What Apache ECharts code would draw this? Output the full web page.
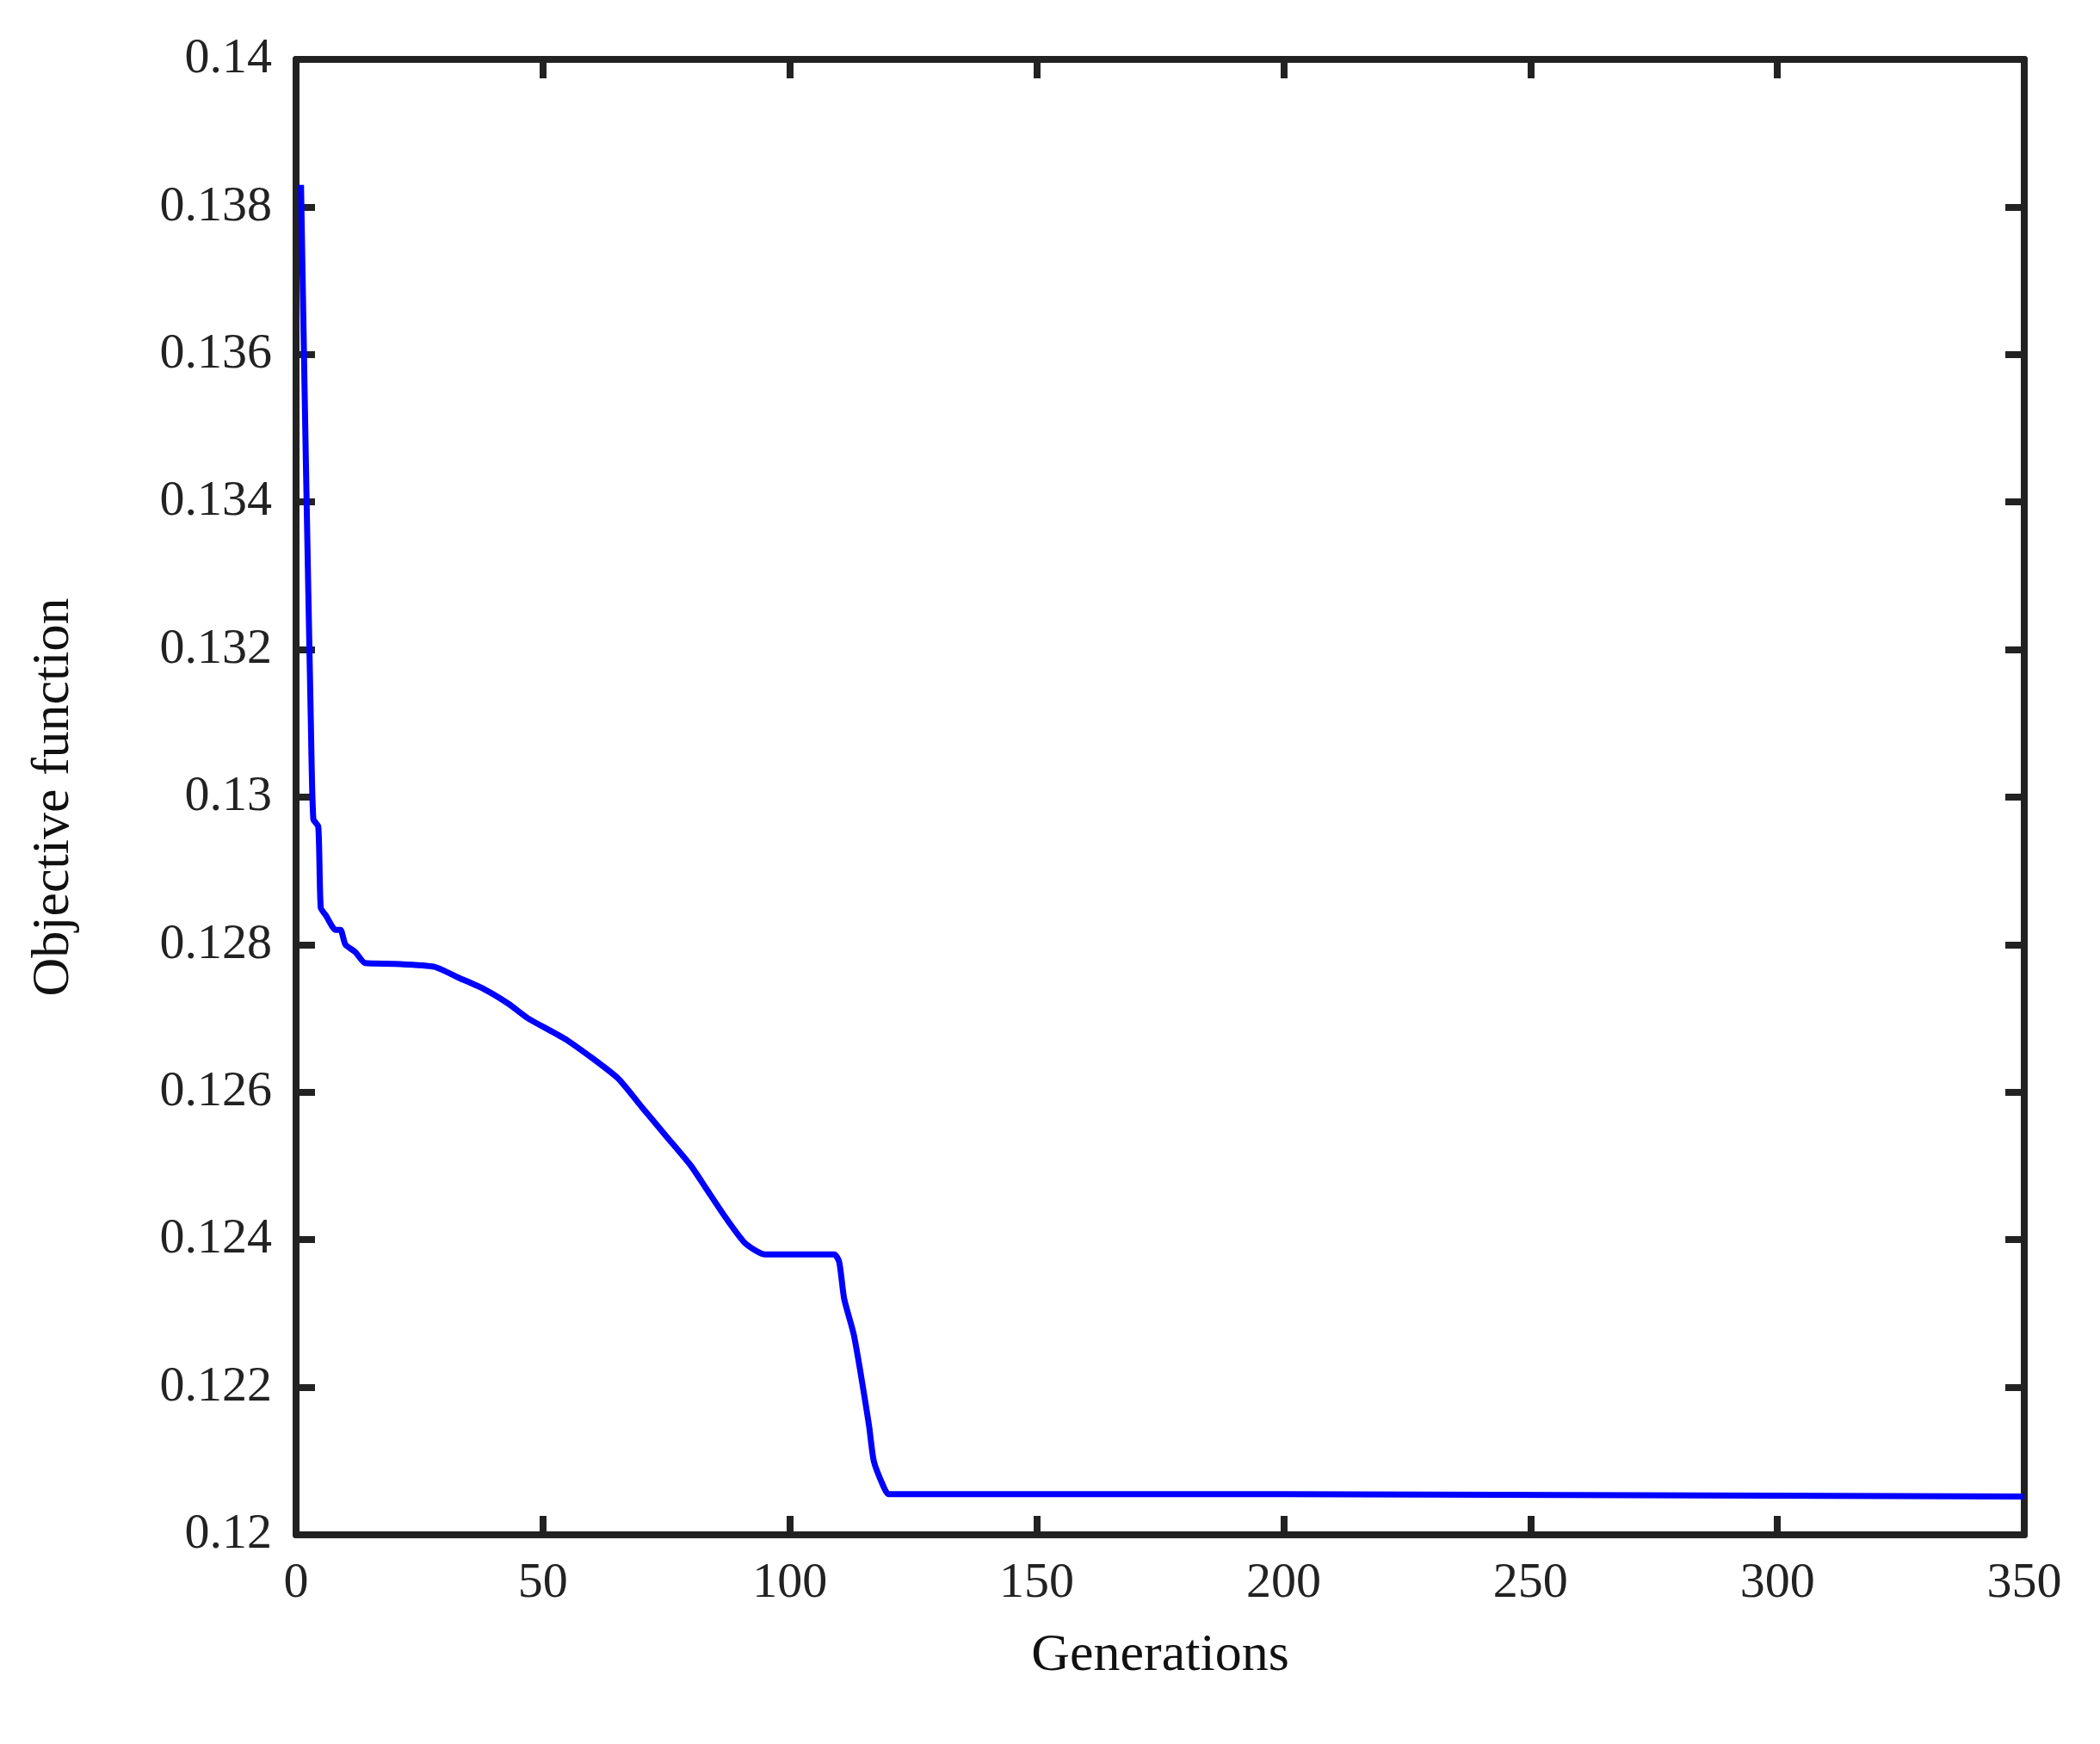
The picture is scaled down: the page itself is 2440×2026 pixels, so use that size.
<!DOCTYPE html>
<html>
<head>
<meta charset="utf-8">
<script src="https://cdn.jsdelivr.net/npm/echarts@6/dist/echarts.min.js"></script>
<style>html,body{margin:0;background:#fff}#main{width:2440px;height:2026px}</style>
</head>
<body>
<div id="main"></div>
<script>
var generations = [1, 2, 3, 3.5, 4.5, 5, 6, 8, 9, 10, 12, 14, 20, 28, 33, 38, 43, 47, 55, 65, 70, 75, 80, 83, 87, 91, 95, 109, 110, 111, 113, 116, 117, 119, 120, 200, 350];
var objective = [0.1383, 0.1345, 0.1310, 0.1297, 0.1296, 0.1285, 0.1284, 0.1282, 0.1282, 0.1280, 0.1279, 0.12775, 0.12774, 0.1277, 0.12755, 0.1274, 0.1272, 0.1270, 0.1267, 0.1262, 0.1258, 0.1254, 0.1250, 0.1247, 0.1243, 0.12395, 0.1238, 0.1238, 0.1237, 0.1232, 0.1227, 0.1215, 0.1210, 0.12065, 0.12055, 0.12055, 0.12052];
var xTicks = [0, 50, 100, 150, 200, 250, 300, 350];
var yTicks = ['0.12', '0.122', '0.124', '0.126', '0.128', '0.13', '0.132', '0.134', '0.136', '0.138', '0.14'];

var myChart = echarts.init(document.getElementById('main'));
var font = 'Liberation Serif';
var frame = { show: true, onZero: false, lineStyle: { color: '#222', width: 8 } };
var tick = { show: true, inside: true, length: 22, lineStyle: { color: '#222', width: 8 } };

var option = {
  animation: false,
  grid: { left: 344, right: 88, top: 69, bottom: 243 },
  xAxis: [{
    type: 'value', min: 0, max: 350, interval: 50,
    name: 'Generations', nameLocation: 'middle', nameGap: 110,
    nameTextStyle: { fontFamily: font, fontSize: 62, color: '#111' },
    axisLine: frame, axisTick: tick, splitLine: { show: false },
    axisLabel: { fontFamily: font, fontSize: 58, color: '#222', margin: 28 }
  }, {
    type: 'value', position: 'top', min: 0, max: 350, interval: 50,
    axisLine: frame, axisTick: tick, splitLine: { show: false }, axisLabel: { show: false }
  }],
  yAxis: [{
    type: 'value', min: 0.12, max: 0.14, interval: 0.002,
    name: 'Objective function', nameLocation: 'middle', nameGap: 250,
    nameTextStyle: { fontFamily: font, fontSize: 62, color: '#111' },
    axisLine: frame, axisTick: tick, splitLine: { show: false },
    axisLabel: {
      fontFamily: font, fontSize: 58, color: '#222', margin: 28,
      formatter: function (v) { return yTicks[Math.round((v - 0.12) / 0.002)]; }
    }
  }, {
    type: 'value', position: 'right', min: 0.12, max: 0.14, interval: 0.002,
    axisLine: frame, axisTick: tick, splitLine: { show: false }, axisLabel: { show: false }
  }],
  series: [{
    type: 'line', showSymbol: false, smooth: 0.2,
    lineStyle: { color: '#0000ff', width: 7 },
    data: generations.map(function (g, i) { return [g, objective[i]]; })
  }]
};
myChart.setOption(option);
</script>
</body>
</html>
